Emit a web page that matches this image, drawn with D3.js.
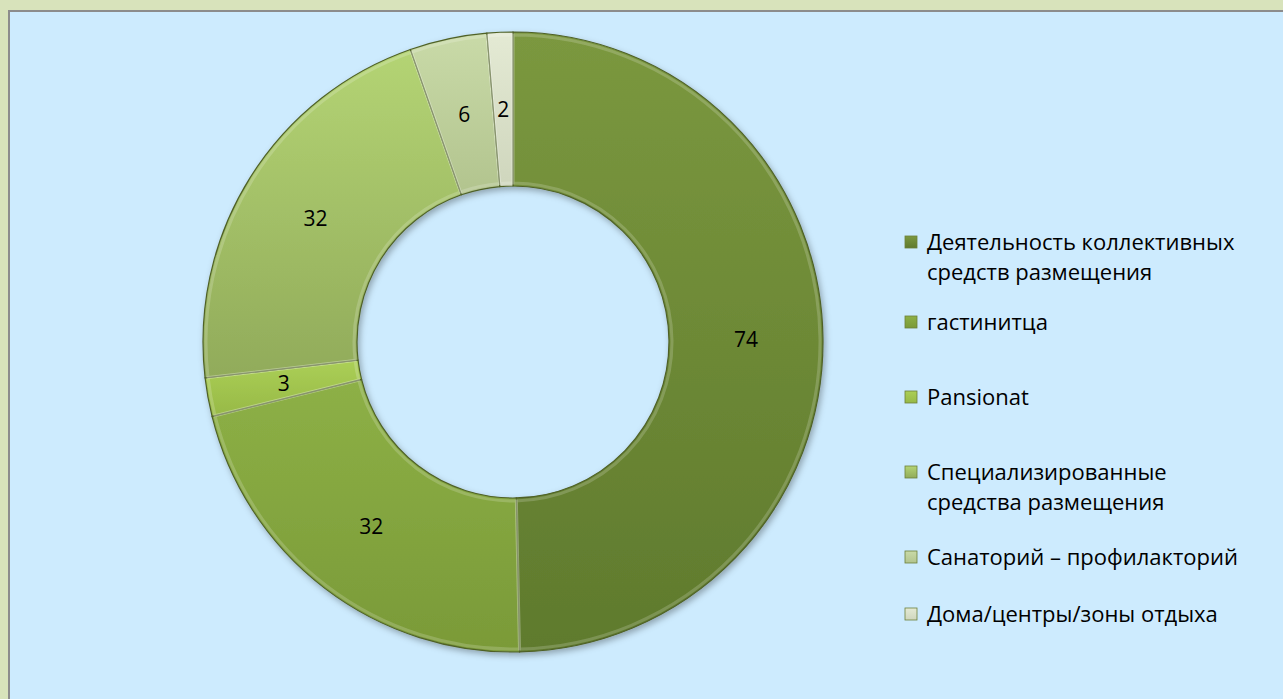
<!DOCTYPE html>
<html>
<head>
<meta charset="utf-8">
<script src="https://cdn.jsdelivr.net/npm/d3@7"></script>
<style>
  body { margin: 0; background: #d8e3bb; }
  svg { display: block; }
</style>
</head>
<body>
<svg></svg>
<script>
// data
var categories = [
    ["Деятельность коллективных", "средств размещения"],
    ["гастинитца"],
    ["Pansionat"],
    ["Специализированные", "средства размещения"],
    ["Санаторий – профилакторий"],
    ["Дома/центры/зоны отдыха"]
];
var values = [74, 32, 3, 32, 6, 2];
var topColors = ["#7b983f", "#8db046", "#abcf56", "#b4d474", "#c9daa8", "#e4ead4"];
var bottomColors = ["#5f7a2d", "#7a9a38", "#97b947", "#91ab5a", "#b2c48e", "#cfd6bd"];
var legendY = [242, 322, 397, 472, 557, 614];

var svgWidth = 1283, svgHeight = 699;

var svg = d3.select('svg')
    .attr("width", svgWidth)
    .attr("height", svgHeight);

var defs = svg.append("defs");

// drop shadow for the ring
var shadow = defs.append("filter").attr("id", "shadow")
    .attr("x", "-10%").attr("y", "-10%").attr("width", "120%").attr("height", "120%");
shadow.append("feDropShadow")
    .attr("dx", 2).attr("dy", 3).attr("stdDeviation", 3)
    .attr("flood-color", "#000").attr("flood-opacity", 0.3);

values.forEach(function (v, i) {
    var grad = defs.append("linearGradient").attr("id", "g" + i)
        .attr("x1", 0).attr("y1", 0).attr("x2", 0).attr("y2", 1);
    grad.append("stop").attr("offset", "0%").attr("stop-color", topColors[i]);
    grad.append("stop").attr("offset", "100%").attr("stop-color", bottomColors[i]);
});

// panel
svg.append("rect")
    .attr("x", 9).attr("y", 11)
    .attr("width", svgWidth).attr("height", svgHeight)
    .style("fill", "#cdebfe")
    .style("stroke", "#8c8c8c")
    .style("stroke-width", 2);

var cx = 513, cy = 342, outerR = 310, innerR = 156;

var pie = d3.pie().sort(null).value(function (d) { return d; });
var arc = d3.arc().innerRadius(innerR).outerRadius(outerR);
var highlight = d3.arc().innerRadius(innerR + 3).outerRadius(outerR - 3);

var g = svg.append("g")
    .attr("transform", "translate(" + cx + "," + cy + ")");

var ring = g.append("g").attr("filter", "url(#shadow)");

var arcs = pie(values);

ring.selectAll("path.slice")
    .data(arcs)
    .enter()
    .append("path")
    .attr("class", "slice")
    .attr("d", arc)
    .style("fill", function (d, i) { return "url(#g" + i + ")"; })
    .style("stroke", "#4f6128")
    .style("stroke-width", 1.2);

// soft bevel highlight
g.selectAll("path.hl")
    .data(arcs)
    .enter()
    .append("path")
    .attr("class", "hl")
    .attr("d", highlight)
    .style("fill", "none")
    .style("stroke", "#ffffff")
    .style("stroke-opacity", 0.18)
    .style("stroke-width", 3);

g.selectAll("text.val")
    .data(arcs)
    .enter()
    .append("text")
    .attr("class", "val")
    .attr("x", function (d) { return arc.centroid(d)[0]; })
    .attr("y", function (d) { return arc.centroid(d)[1]; })
    .attr("dy", "0.35em")
    .attr("text-anchor", "middle")
    .style("font-family", "'Open Sans', sans-serif")
    .style("font-size", "21px")
    .style("fill", "#000")
    .text(function (d) { return d.data; });

// legend
var legend = svg.append("g").selectAll("g")
    .data(categories)
    .enter()
    .append("g")
    .attr("transform", function (d, i) { return "translate(905," + legendY[i] + ")"; });

legend.append("rect")
    .attr("x", 0).attr("y", -6)
    .attr("width", 12).attr("height", 12)
    .style("fill", function (d, i) { return "url(#g" + i + ")"; })
    .style("stroke", "#6b7f3a")
    .style("stroke-width", 0.8);

legend.append("text")
    .attr("x", 22)
    .style("font-family", "'Open Sans', sans-serif")
    .style("font-size", "22px")
    .style("fill", "#000")
    .selectAll("tspan")
    .data(function (d) { return d; })
    .enter()
    .append("tspan")
    .attr("x", 22)
    .attr("y", function (d, i) { return i * 30; })
    .attr("dy", "0.35em")
    .text(function (d) { return d; });
</script>
</body>
</html>
